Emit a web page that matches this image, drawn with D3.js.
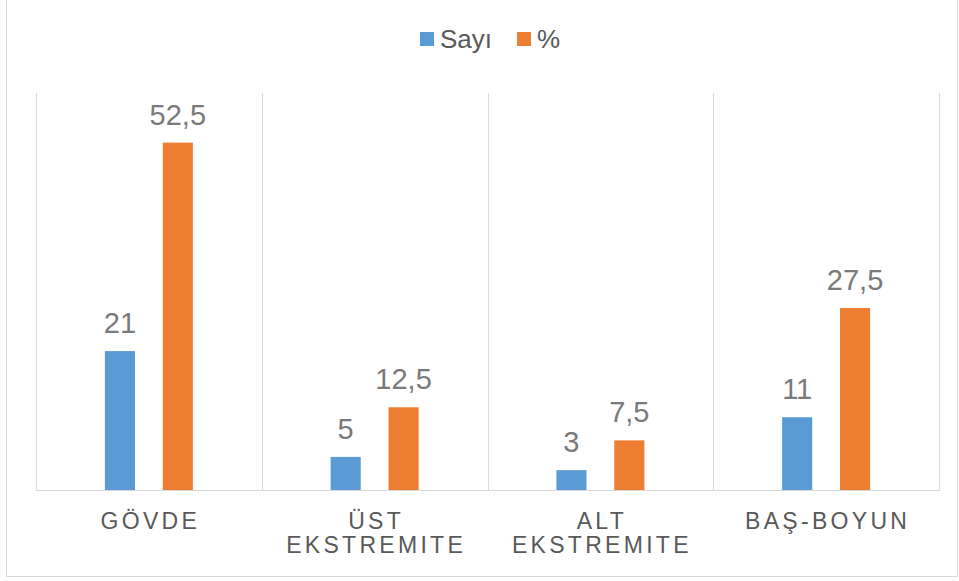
<!DOCTYPE html>
<html>
<head>
<meta charset="utf-8">
<script src="https://cdn.jsdelivr.net/npm/d3@7"></script>
<style>
  html, body { margin: 0; padding: 0; background: #fff; }
  svg { display: block; font-family: Arial, "Liberation Sans", sans-serif; }
</style>
</head>
<body>
<svg id="chart" width="959" height="581"></svg>
<script>
// Vücut bölgelerine göre dağılım
const categories = [["GÖVDE"], ["ÜST", "EKSTREMITE"], ["ALT", "EKSTREMITE"], ["BAŞ-BOYUN"]];
const sayi = [21, 5, 3, 11];
const yuzde = [52.5, 12.5, 7.5, 27.5];
const seriesNames = ["Sayı", "%"];
const colors = ["#5b9bd5", "#ed7d31"];
const fmt = v => String(v).replace(".", ",");

const svg = d3.select("#chart");
const plot = { left: 36, right: 939, top: 93, bottom: 490 };

// outer chart frame
svg.append("rect")
  .attr("x", 6.5).attr("y", -0.5).attr("width", 951).attr("height", 577)
  .attr("fill", "#fff").attr("stroke", "#d9d9d9").attr("stroke-width", 1);

const keys = categories.map((c, i) => i);
const x = d3.scaleBand().domain(keys).range([plot.left, plot.right]);
const y = d3.scaleLinear().domain([0, 60]).range([plot.bottom, plot.top]);

// inner band: two bars with a gap between them
const x1 = d3.scaleBand().domain([0, 1]).range([-44, 44]).paddingInner(0.48);

// vertical category separators
const bounds = keys.map(k => x(k)).concat([x(keys[keys.length - 1]) + x.bandwidth()]);
svg.append("g").selectAll("line").data(bounds).join("line")
  .attr("x1", d => Math.round(d) + 0.5).attr("x2", d => Math.round(d) + 0.5)
  .attr("y1", plot.top).attr("y2", plot.bottom)
  .attr("stroke", "#d9d9d9").attr("stroke-width", 1);

// baseline
svg.append("line")
  .attr("x1", plot.left).attr("x2", plot.right + 1)
  .attr("y1", plot.bottom + 0.5).attr("y2", plot.bottom + 0.5)
  .attr("stroke", "#d9d9d9").attr("stroke-width", 1);

const series = [sayi, yuzde];
const groups = svg.append("g").selectAll("g").data(keys).join("g")
  .attr("transform", k => `translate(${x(k) + x.bandwidth() / 2},0)`);

series.forEach((vals, s) => {
  groups.append("rect")
    .attr("x", x1(s))
    .attr("width", x1.bandwidth())
    .attr("y", k => y(vals[k]))
    .attr("height", k => y(0) - y(vals[k]))
    .attr("fill", colors[s]);
  groups.append("text")
    .attr("x", x1(s) + x1.bandwidth() / 2)
    .attr("y", k => y(vals[k]) - 18)
    .attr("text-anchor", "middle")
    .attr("font-size", 29)
    .attr("fill", "#7a7a7a")
    .text(k => fmt(vals[k]));
});

// category labels
groups.append("text")
  .attr("text-anchor", "middle")
  .attr("font-size", 23)
  .attr("letter-spacing", 3.3)
  .attr("fill", "#595959")
  .each(function (k) {
    const t = d3.select(this);
    categories[k].forEach((line, i) => {
      t.append("tspan").attr("x", 1.5).attr("y", 529 + i * 24).text(line);
    });
  });

// legend
const legend = svg.append("g");
const legendItems = [{ x: 420 }, { x: 517 }];
seriesNames.forEach((name, i) => {
  legend.append("rect").attr("x", legendItems[i].x).attr("y", 32)
    .attr("width", 14).attr("height", 14).attr("fill", colors[i]);
  legend.append("text").attr("x", legendItems[i].x + 20).attr("y", 48)
    .attr("font-size", 26).attr("fill", "#595959").text(name);
});
</script>
</body>
</html>
